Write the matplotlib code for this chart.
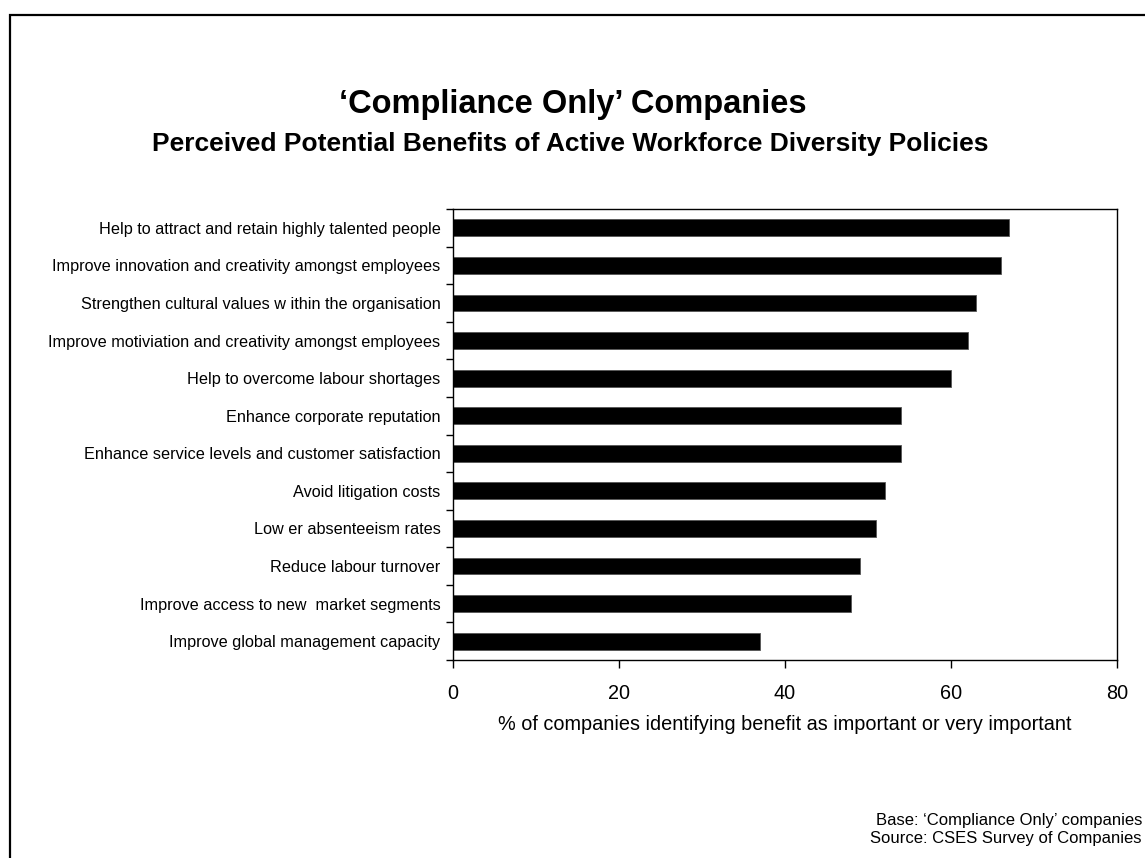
import numpy as np
import matplotlib.pyplot as plt
import matplotlib.patches as mpatches

plt.rcParams['font.family'] = ['Liberation Sans', 'DejaVu Sans']

benefits = [
    "Help to attract and retain highly talented people",
    "Improve innovation and creativity amongst employees",
    "Strengthen cultural values w ithin the organisation",
    "Improve motiviation and creativity amongst employees",
    "Help to overcome labour shortages",
    "Enhance corporate reputation",
    "Enhance service levels and customer satisfaction",
    "Avoid litigation costs",
    "Low er absenteeism rates",
    "Reduce labour turnover",
    "Improve access to new  market segments",
    "Improve global management capacity",
]
pct = [67, 66, 63, 62, 60, 54, 54, 52, 51, 49, 48, 37]
xticks = [0, 20, 40, 60, 80]

W, H = 1145, 858
fig = plt.figure(figsize=(W / 100, H / 100), dpi=100)

# outer frame (runs off the right and bottom edges)
frame = mpatches.Rectangle((9.5 / W, -0.1), 1.2, 1 - 14.7 / H + 0.1,
                           transform=fig.transFigure, fill=False,
                           edgecolor='black', linewidth=1.6, clip_on=False)
fig.add_artist(frame)

ax = fig.add_axes([453 / W, 1 - 660 / H, (1117 - 453) / W, (660 - 209) / H])

n = len(pct)
y = np.arange(n)
ax.barh(y, pct, height=0.45, color='black', edgecolor='#555555', linewidth=0.6)
ax.set_ylim(n - 0.5, -0.5)
ax.set_xlim(0, 80)

ax.set_yticks(y)
ax.set_yticklabels(benefits, fontsize=11.7)
ax.tick_params(axis='y', length=0, pad=9)
# tick marks between categories
ax.set_yticks(np.arange(-0.5, n, 1), minor=True)
ax.tick_params(axis='y', which='minor', length=5, width=1, direction='out')

ax.set_xticks(xticks)
ax.set_xticklabels([str(t) for t in xticks], fontsize=14.3)
ax.tick_params(axis='x', length=6, width=1, direction='out', pad=11)
ax.set_xlabel('% of companies identifying benefit as important or very important',
              fontsize=14.3, labelpad=9)

for s in ax.spines.values():
    s.set_linewidth(1)
    s.set_color('black')

fig.text(573 / W, 1 - 105 / H, "\u2018Compliance Only\u2019 Companies",
         ha='center', va='center', fontsize=23.5, fontweight='bold')
fig.text(570 / W, 1 - 144 / H,
         "Perceived Potential Benefits of Active Workforce Diversity Policies",
         ha='center', va='center', fontsize=19, fontweight='bold')

fig.text(1142 / W, 1 - 820 / H, "Base: \u2018Compliance Only\u2019 companies",
         ha='right', va='center', fontsize=12)
fig.text(1142 / W, 1 - 838 / H, "Source: CSES Survey of Companies",
         ha='right', va='center', fontsize=12)

fig.savefig('out.png', dpi=100)
